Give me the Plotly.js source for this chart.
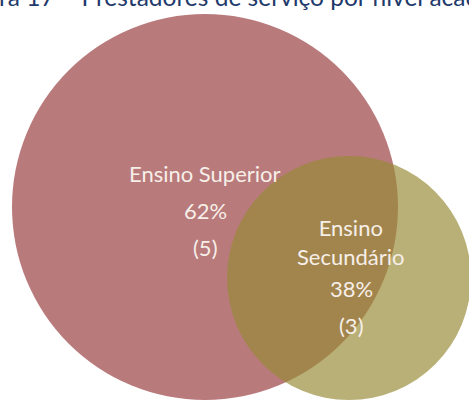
<!DOCTYPE html>
<html>
<head>
<meta charset="utf-8">
<script src="https://cdn.plot.ly/plotly-3.0.1.min.js"></script>
<style>html,body{margin:0;padding:0;background:#fff;}#chart{width:469px;height:400px;}</style>
</head>
<body>
<div id="chart"></div>
<script>
// Data
const titleText = 'Figura 17 – Prestadores de serviço por nível académico';
const categories = ['Ensino Superior', 'Ensino Secundário'];
const categoryLines = [['Ensino Superior'], ['Ensino<br>Secundário']];
const percents = [62, 38];
const counts = [5, 3];

// Layout geometry (pixel-like coordinates)
const geo = {
  cx: [205, 349],
  cy: [207, 278],
  r: [193, 122],
  fill: ['#b97a7c', 'rgba(152,138,55,0.68)'],
  labelY: [[173, 210, 247], [242, 288, 325]],
  labelX: [205, 351]
};

const shapes = categories.map((c, i) => ({
  type: 'circle', xref: 'x', yref: 'y',
  x0: geo.cx[i] - geo.r[i], x1: geo.cx[i] + geo.r[i],
  y0: geo.cy[i] - geo.r[i], y1: geo.cy[i] + geo.r[i],
  fillcolor: geo.fill[i], line: {width: 0}, layer: 'below'
}));

const labelFont = {family: 'Lato, "Open Sans", sans-serif', size: 22, color: '#f6efe8'};
const annotations = [];
categories.forEach((c, i) => {
  const lines = categoryLines[i].concat([percents[i] + '%', '(' + counts[i] + ')']);
  lines.forEach((t, j) => {
    annotations.push({
      x: geo.labelX[i], y: geo.labelY[i][j], xref: 'x', yref: 'y',
      text: t, showarrow: false, xanchor: 'center', yanchor: 'middle',
      align: 'center', borderpad: 0,
      font: labelFont
    });
  });
});

// Title (partly cut off at the top, as in the reference)
annotations.push({
  x: -49 / 469, y: 1 - 13 / 400, xref: 'paper', yref: 'paper',
  xanchor: 'left', yanchor: 'bottom', showarrow: false,
  text: titleText,
  font: {family: 'Lato, "Open Sans", sans-serif', size: 24.5, color: '#1f3a6b'}
});

const trace = {
  x: geo.cx, y: geo.cy, type: 'scatter', mode: 'markers',
  marker: {size: 1, opacity: 0}, hoverinfo: 'skip', showlegend: false,
  text: categories
};

const layout = {
  width: 469, height: 400,
  margin: {l: 0, r: 0, t: 0, b: 0},
  paper_bgcolor: '#ffffff', plot_bgcolor: '#ffffff',
  xaxis: {range: [0, 469], visible: false, fixedrange: true},
  yaxis: {range: [400, 0], visible: false, fixedrange: true},
  shapes: shapes,
  annotations: annotations,
  showlegend: false
};

Plotly.newPlot('chart', [trace], layout, {displayModeBar: false, staticPlot: true});
</script>
</body>
</html>
